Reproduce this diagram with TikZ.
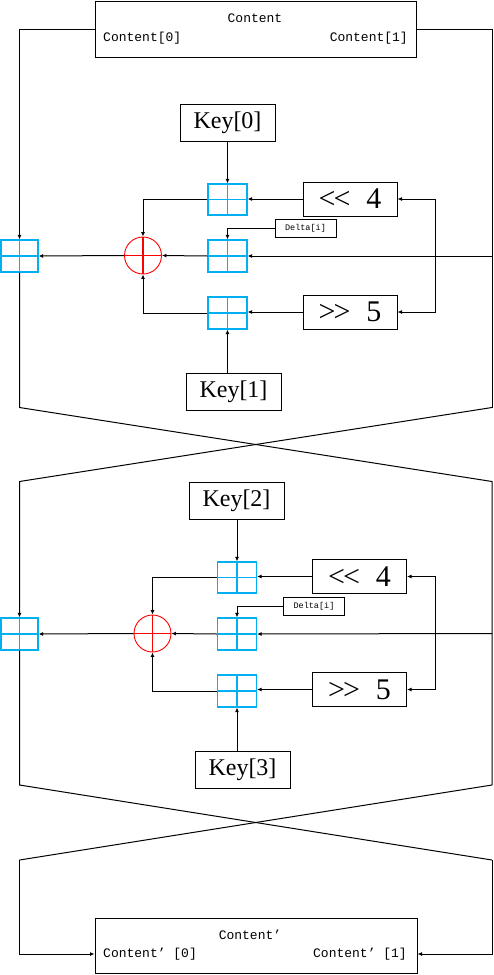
\documentclass[tikz,border=0pt]{standalone}
\usepackage{fontspec}
\setmainfont{Liberation Serif}
\newfontfamily\monof{Liberation Mono}
\usetikzlibrary{arrows.meta,calc}
\definecolor{xblue}{RGB}{0,176,240}
\begin{document}
\begin{tikzpicture}[x=1pt,y=-1pt,
  ln/.style={line width=1pt},
  arr/.style={ln,-{Latex[length=4.5pt,width=4pt]}},
  box/.style={draw,line width=1pt,inner sep=0pt},
  keybox/.style={box,minimum width=95pt,minimum height=37pt,font=\fontsize{24}{24}\selectfont},
  shbox/.style={box,minimum width=94pt,minimum height=34pt,font=\fontsize{30}{30}\selectfont},
  dbox/.style={box,minimum width=61pt,minimum height=18pt,font=\monof\fontsize{8.5}{8.5}\selectfont},
  xr/.style={draw=xblue,line width=1.1pt,minimum width=39pt,minimum height=32pt,inner sep=0pt,
    path picture={\draw[xblue,line width=1.1pt] (path picture bounding box.north)--(path picture bounding box.south) (path picture bounding box.west)--(path picture bounding box.east);}},
  xc/.style={circle,draw=red,line width=0.9pt,minimum size=37pt,inner sep=0pt,
    path picture={\draw[red,line width=1.1pt] (path picture bounding box.north)--(path picture bounding box.south) (path picture bounding box.west)--(path picture bounding box.east);}},
  txt/.style={inner sep=0pt,font=\monof\fontsize{13}{13}\selectfont}
]
\useasboundingbox (0,0) rectangle (493,975);

% top content box
\node[box,minimum width=321pt,minimum height=56pt] (top) at (255.5,29) {};
\node[txt] (tc) at (255,18) {Content};
\node[txt,anchor=west] (t0) at (103,38) {Content[0]};
\node[txt,anchor=east] (t1) at (408,38) {Content[1]};

% coordinates for the crossing lines
\coordinate (pa1) at (19.5,407.5);
\coordinate (pb1) at (492,407.5);
\coordinate (pc1) at (19.5,481.5);
\coordinate (pd1) at (492,481.5);
\coordinate (pa2) at (19.5,785);
\coordinate (pb2) at (492,785);
\coordinate (pc2) at (19.5,860);
\coordinate (pd2) at (492,860);
\coordinate (r1) at (492,256);
\coordinate (j1) at (435,256);
\coordinate (r2) at (492,633.5);
\coordinate (j2) at (435,633.5);

% round 1
\node[xr,minimum width=37pt] (L1) at (19.5,256) {};
\node[xc] (X1) at (143,255.5) {};
\node[xr,minimum height=31pt] (A1) at (227.5,199.5) {};
\node[xr] (M1) at (227.5,256) {};
\node[xr] (B1) at (227.5,313) {};
\node[keybox] (K0) at (227.5,122.5) {Key[0]};
\node[shbox] (S1) at (350,199) {<\kern-2pt<\hspace{16pt}4};
\node[shbox] (R1) at (350,312) {>\kern-2pt>\hspace{16pt}5};
\node[dbox] (D1) at (305.5,228) {Delta[i]};
\node[keybox] (K1) at (233.5,391.5) {Key[1]};

\draw[arr] (top.west) -| (L1.north);
\draw[ln] (top.east) -| (pb1);
\draw[ln] (L1.south) -- (pa1) -- (pd1) -- (pb2);
\draw[arr] (r1) -- (M1.east);
\draw[arr] (j1) |- (S1.east);
\draw[arr] (j1) |- (R1.east);
\draw[arr] (S1.west) -- (S1.west -| A1.east);
\draw[arr] (R1.west) -- (R1.west -| B1.east);
\draw[arr] (K0.south) -- (A1.north);
\draw[arr] (D1.west) -| (M1.north);
\draw[arr] (A1.west) -| (X1.north);
\draw[arr] (B1.west) -| (X1.south);
\draw[arr] (M1.west) -- (X1.east);
\draw[arr] (X1.west) -- (L1.east);
\draw[arr] (K1.north -| B1.south) -- (B1.south);

% round 2
\node[xr,minimum width=37pt] (L2) at (19.5,634) {};
\node[xc] (X2) at (152.5,633.5) {};
\node[xr,minimum height=31pt] (A2) at (237,577.5) {};
\node[xr] (M2) at (237,634) {};
\node[xr] (B2) at (237,691) {};
\node[keybox] (K2) at (236.5,500.5) {Key[2]};
\node[shbox] (S2) at (359.5,576.5) {<\kern-2pt<\hspace{16pt}4};
\node[shbox] (R2) at (359.5,689.5) {>\kern-2pt>\hspace{16pt}5};
\node[dbox] (D2) at (314,606) {Delta[i]};
\node[keybox] (K3) at (242.5,770) {Key[3]};

\draw[arr] (pb1) -- (pc1) -- (L2.north);
\draw[ln] (L2.south) -- (pa2) -- (pd2);
\draw[ln] (pb2) -- (pc2);
\draw[arr] (r2) -- (M2.east);
\draw[arr] (j2) |- (S2.east);
\draw[arr] (j2) |- (R2.east);
\draw[arr] (S2.west) -- (S2.west -| A2.east);
\draw[arr] (R2.west) -- (R2.west -| B2.east);
\draw[arr] (K2.south -| A2.north) -- (A2.north);
\draw[arr] (D2.west) -| (M2.north);
\draw[arr] (A2.west) -| (X2.north);
\draw[arr] (B2.west) -| (X2.south);
\draw[arr] (M2.west) -- (X2.east);
\draw[arr] (X2.west) -- (L2.east);
\draw[arr] (K3.north -| B2.south) -- (B2.south);

% bottom content box
\node[box,minimum width=322pt,minimum height=55pt] (bot) at (256,945.5) {};
\coordinate (bin) at (bot.west |- 0,954);
\coordinate (bout) at (bot.east |- 0,954);
\node[txt] (bc) at (250,935) {Content’};
\node[txt,anchor=west] (b0) at (103,954) {Content’ [0]};
\node[txt,anchor=east] (b1) at (407,954) {Content’ [1]};
\draw[arr] (pc2) |- (bin);
\draw[arr] (pd2) |- (bout);
\end{tikzpicture}
\end{document}
